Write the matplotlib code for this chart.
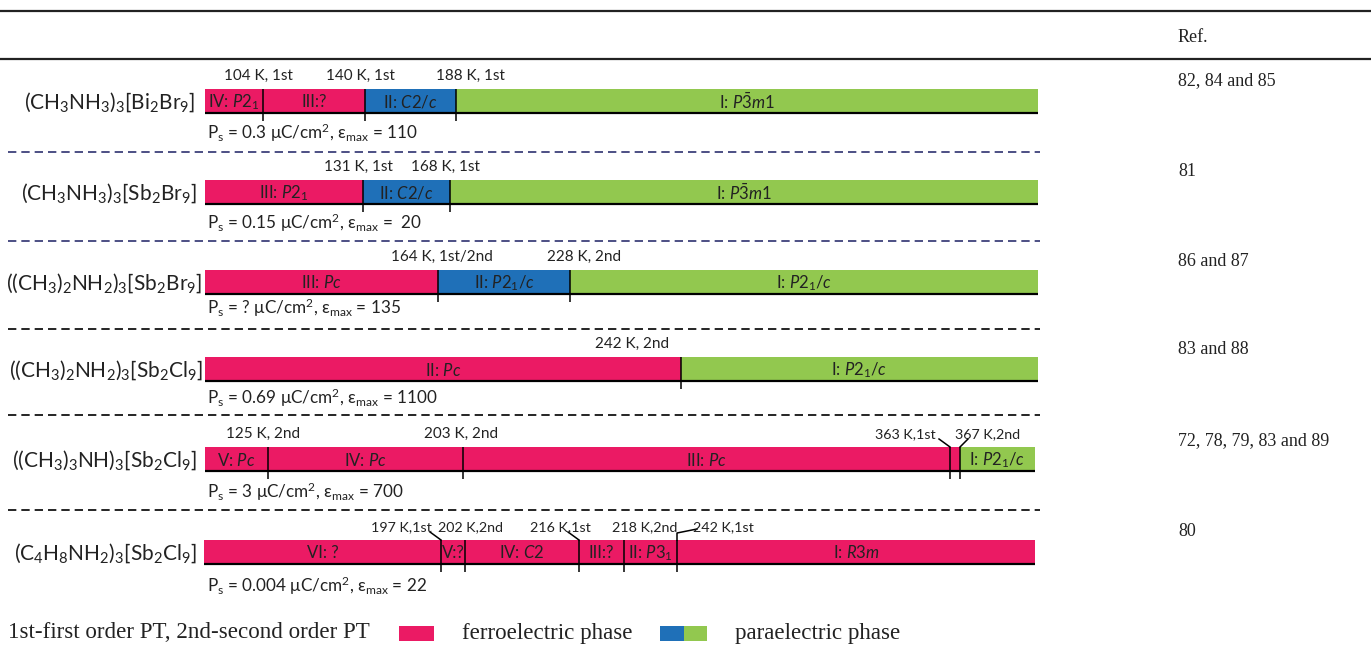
import matplotlib.pyplot as plt
from matplotlib.patches import Rectangle

# 字体设置
plt.rcParams['font.family'] = ['Lato', 'DejaVu Sans']
plt.rcParams['mathtext.fontset'] = 'custom'
plt.rcParams['mathtext.rm'] = 'Lato'
plt.rcParams['mathtext.it'] = 'Lato:italic'
plt.rcParams['mathtext.bf'] = 'Lato:bold'

PINK = '#EB1A64'
BLUE = '#1F70B8'
GREEN = '#92C84F'
phase_colors = {'F': PINK, 'B': BLUE, 'G': GREEN}

# ---- data ----
compounds = [
    r'$\mathregular{(CH_3NH_3)_3[Bi_2Br_9]}$',
    r'$\mathregular{(CH_3NH_3)_3[Sb_2Br_9]}$',
    r'$\mathregular{((CH_3)_2NH_2)_3[Sb_2Br_9]}$',
    r'$\mathregular{((CH_3)_2NH_2)_3[Sb_2Cl_9]}$',
    r'$\mathregular{((CH_3)_3NH)_3[Sb_2Cl_9]}$',
    r'$\mathregular{(C_4H_8NH_2)_3[Sb_2Cl_9]}$',
]
# schematic phase boundaries along the bar
edges = [
    [205, 263, 365, 456, 1038],
    [205, 363, 450, 1038],
    [205, 438, 570, 1038],
    [205, 681, 1038],
    [205, 268, 463, 950, 960, 1035],
    [204, 441, 465, 579, 624, 677, 1035],
]
phases = [
    [r'IV: $P2_1$', 'III:?', r'II: $C2/c$', r'I: $P\bar{3}m1$'],
    [r'III: $P2_1$', r'II: $C2/c$', r'I: $P\bar{3}m1$'],
    [r'III: $Pc$', r'II: $P2_1/c$', r'I: $P2_1/c$'],
    [r'II: $Pc$', r'I: $P2_1/c$'],
    [r'V: $Pc$', r'IV: $Pc$', r'III: $Pc$', '', r'I: $P2_1/c$'],
    ['VI: ?', 'V:?', r'IV: $C2$', 'III:?', r'II: $P3_1$', r'I: $R3m$'],
]
phase_kind = [
    ['F', 'F', 'B', 'G'],
    ['F', 'B', 'G'],
    ['F', 'B', 'G'],
    ['F', 'G'],
    ['F', 'F', 'F', 'F', 'G'],
    ['F', 'F', 'F', 'F', 'F', 'F'],
]
transitions = [
    ['104 K, 1st', '140 K, 1st', '188 K, 1st'],
    ['131 K, 1st', '168 K, 1st'],
    ['164 K, 1st/2nd', '228 K, 2nd'],
    ['242 K, 2nd'],
    ['125 K, 2nd', '203 K, 2nd', '363 K,1st', '367 K,2nd'],
    ['197 K,1st', '202 K,2nd', '216 K,1st', '218 K,2nd', '242 K,1st'],
]
ps_values = ['0.3', '0.15', '?', '0.69', '3', '0.004']
eps_max = ['110', ' 20', '135', '1100', '700', '22']
refs = ['82, 84 and 85', '81', '86 and 87', '83 and 88',
        '72, 78, 79, 83 and 89', '80']

# ---- layout ----
bar_top = [89, 180, 270, 357, 447, 540]
bar_h = 24
comp_right = [195, 197, 202, 203, 197, 197]
ps_y = [133, 223, 308, 398, 492, 586]
ref_y = [81, 172, 261, 350, 441, 531]
label_x = [
    [258, 360, 470],
    [358, 445],
    [442, 584],
    [632],
    [263, 461, 936, 955],
    [432, 471, 591, 645, 693],
]
# leader style: '' none, '\\' from left, '/' from right, 'G' bracket
leaders = [
    ['', '', ''],
    ['', ''],
    ['', ''],
    [''],
    ['', '', '\\', '/'],
    ['\\', '', '\\', '', 'G'],
]
sep_y = [152, 241, 329, 415, 510]
sep_col = ['#2E3170', '#2E3170', 'black', 'black', 'black']

fig = plt.figure(figsize=(13.71, 6.48), dpi=100)
ax = fig.add_axes([0, 0, 1, 1])
ax.set_xlim(0, 1371)
ax.set_ylim(648, 0)
ax.axis('off')

SERIF = 'Liberation Serif'
TXT = '#222222'

# 表头
ax.axhline(11, color=TXT, lw=1.6)
ax.axhline(59, color=TXT, lw=1.6)
ax.text(1178, 38, 'Ref.', family=SERIF, fontsize=13,
        va='center', ha='left', color=TXT)

for i in range(len(compounds)):
    e = edges[i]
    t = bar_top[i]
    b = t + bar_h
    lefts = e[:-1]
    widths = [e[k + 1] - e[k] for k in range(len(e) - 1)]
    cols = [phase_colors[k] for k in phase_kind[i]]
    ax.barh(t + bar_h / 2, widths, left=lefts, height=bar_h, color=cols,
            linewidth=0)
    ax.hlines(b, e[0], e[-1], color='black', lw=1.6)
    ax.vlines(e[1:-1], t, b + 8, color='black', lw=1.1)

    for k, lab in enumerate(phases[i]):
        if lab:
            ax.text((e[k] + e[k + 1]) / 2, t + bar_h / 2 + 1, lab,
                    fontsize=12, ha='center', va='center', color=TXT)

    for k, lab in enumerate(transitions[i]):
        bx = e[k + 1]
        style = leaders[i][k]
        fs = 10.3 if (i == 5 or style != '') else 11
        if style == '\\':
            ax.text(label_x[i][k], t - 13, lab, fontsize=fs, ha='right',
                    va='center', color=TXT)
            ax.plot([bx - 11, bx], [t - 8, t], color='black', lw=1.1)
        elif style == '/':
            ax.text(label_x[i][k], t - 13, lab, fontsize=fs, ha='left',
                    va='center', color=TXT)
            ax.plot([bx + 8, bx], [t - 8, t], color='black', lw=1.1)
        elif style == 'G':
            ax.text(label_x[i][k], t - 13, lab, fontsize=fs, ha='left',
                    va='center', color=TXT)
            ax.plot([bx, bx, bx + 20], [t, t - 7, t - 11], color='black',
                    lw=1.1)
        else:
            ax.text(label_x[i][k], t - 13, lab, fontsize=fs, ha='center',
                    va='center', color=TXT)

    ax.text(comp_right[i], t + bar_h / 2 + 1, compounds[i], fontsize=15,
            ha='right', va='center', color=TXT)
    ps = (r'P$_\mathregular{s}$ = ' + ps_values[i] +
          r' μC/cm$^\mathregular{2}$, ε$_\mathregular{max}$ = ' + eps_max[i])
    ax.text(207, ps_y[i], ps, fontsize=12.3, ha='left', va='center',
            color=TXT)
    ax.text(1178, ref_y[i], refs[i], family=SERIF, fontsize=13,
            ha='left', va='center', color=TXT)

# 分隔虚线
for y, c in zip(sep_y, sep_col):
    ax.plot([8, 1040], [y, y], color=c, lw=1.2, linestyle=(0, (5, 3)))

# 图例
ax.text(8, 633, '1st-first order PT, 2nd-second order PT',
        family=SERIF, fontsize=16.6, va='center', color=TXT)
ax.add_patch(Rectangle((399, 626), 35, 15, color=PINK, lw=0))
ax.text(462, 633, 'ferroelectric phase', family=SERIF,
        fontsize=16.6, va='center', color=TXT)
ax.add_patch(Rectangle((660, 626), 24, 15, color=BLUE, lw=0))
ax.add_patch(Rectangle((684, 626), 23, 15, color=GREEN, lw=0))
ax.text(735, 633, 'paraelectric phase', family=SERIF,
        fontsize=16.6, va='center', color=TXT)

fig.savefig('out.png', dpi=100)
